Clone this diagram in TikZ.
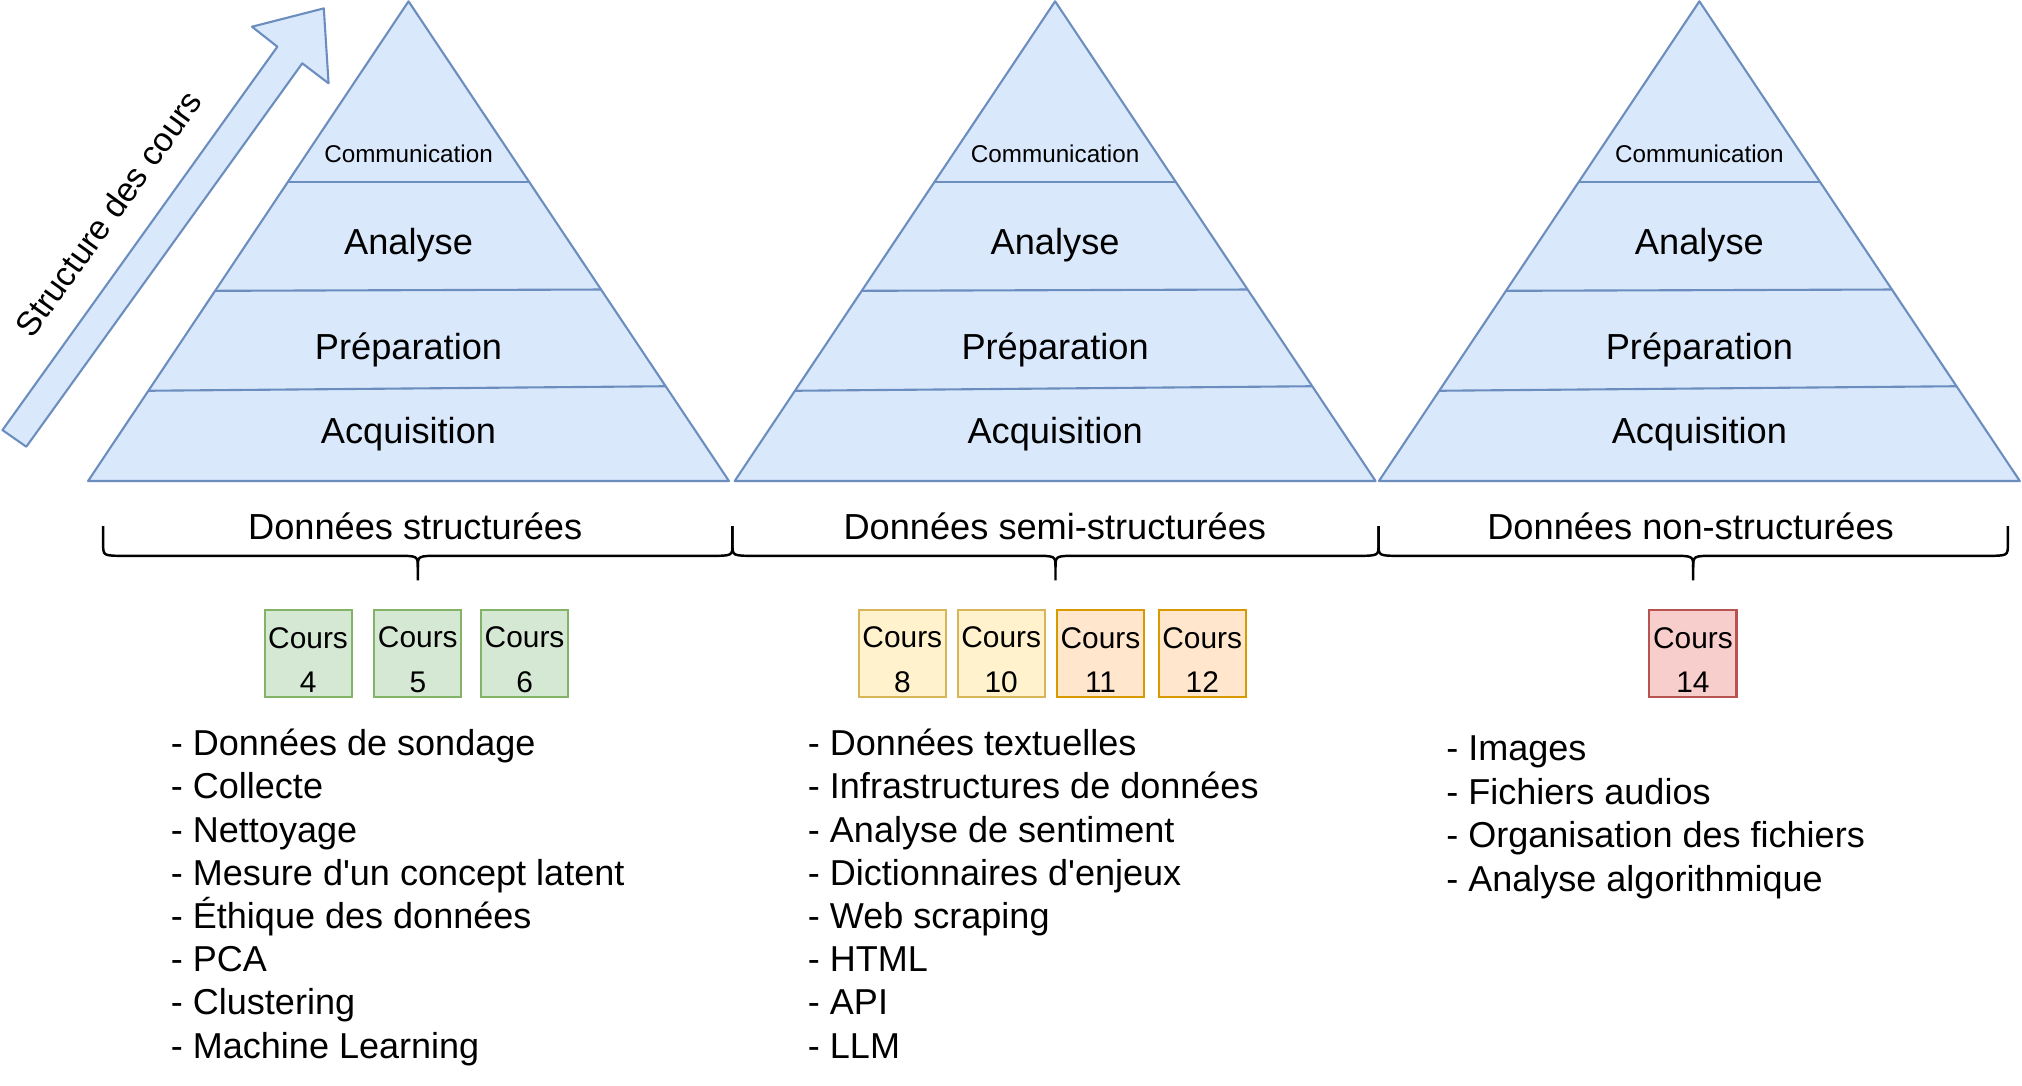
\documentclass[tikz,border=0pt]{standalone}
\usepackage{fontspec}
\setmainfont{Liberation Sans}
\definecolor{bluefill}{HTML}{DAE8FC}
\definecolor{bluedraw}{HTML}{6C8EBF}
\definecolor{greenfill}{HTML}{D5E8D4}
\definecolor{greendraw}{HTML}{82B366}
\definecolor{yellowfill}{HTML}{FFF2CC}
\definecolor{yellowdraw}{HTML}{D6B656}
\definecolor{orangefill}{HTML}{FFE6CC}
\definecolor{orangedraw}{HTML}{D79B00}
\definecolor{redfill}{HTML}{F8CECC}
\definecolor{reddraw}{HTML}{B85450}
\tikzset{
  pyr/.style={draw=bluedraw, line width=0.6pt, line join=round},
  layer/.style={anchor=base, inner sep=0pt, font=\fontsize{10.3}{12}\selectfont},
  cours/.style={draw=#1draw, fill=#1fill, line width=0.6pt, minimum width=0.87cm,
    minimum height=0.87cm, inner sep=0pt, align=center, font=\fontsize{8.5}{12.6}\selectfont},
  brace/.style={draw=black, line width=0.7pt},
  item/.style={anchor=base west, inner sep=0pt, font=\fontsize{10.25}{12.3}\selectfont}
}
\begin{document}
\begin{tikzpicture}[x=0.012895cm, y=-0.012895cm]
	\useasboundingbox (0,0) rectangle (1568,842);
	\draw[pyr, fill=bluefill] (1.9,333.5) -- (215.1,36.2) -- (195.4,20.7) -- (251.1,6.5) -- (254.8,64.6) -- (234.4,49.1) -- (20.4,346.4) -- cycle;
	\node[layer, anchor=center, rotate=54.3, font=\fontsize{9.6}{11}\selectfont] (struct) at (84,165.5) {Structure des cours};
	  \foreach \cx [count=\p] in {316.8,818.2,1317.8}{%
		\draw[pyr, fill=bluefill] (\cx,1) -- (\cx+248.5,373) -- (\cx-248.5,373) -- cycle;
		\draw[pyr] (\cx-93.5,141) -- (\cx+93.5,141);
		\draw[pyr] (\cx-149.6,225.5) -- (\cx+149.6,224.5);
		\draw[pyr] (\cx-201.7,303) -- (\cx+199.5,299.5);
		\node[layer, font=\fontsize{6.9}{8}\selectfont] (com-\p) at (\cx,126) {Communication};
		\node[layer] (ana-\p) at (\cx,197.5) {Analyse};
		\node[layer] (pre-\p) at (\cx,278.5) {Préparation};
		\node[layer] (acq-\p) at (\cx,344) {Acquisition};
	  }
	  \foreach \a/\m/\b in {80/324/568, 568/818.5/1069, 1069/1313/1557}{%
		\draw[brace] (\a,408) -- (\a,422) .. controls (\a,431) .. (\a+17,431) -- (\m-17,431) .. controls (\m,431) .. (\m,440) -- (\m,450);
		\draw[brace] (\m,440) .. controls (\m,431) .. (\m+17,431) -- (\b-17,431) .. controls (\b,431) .. (\b,422) -- (\b,408);
	  }
	\node[layer] (d-struct) at (322,418.5) {Données structurées};
	\node[layer] (d-semi) at (818,418.5) {Données semi-structurées};
	\node[layer] (d-non) at (1311,418.5) {Données non-structurées};
	  \foreach \x/\k/\col in {238.9/4/green, 324/5/green, 406.8/6/green, 699.7/8/yellow, 776.4/10/yellow, 853.4/11/orange, 932.3/12/orange, 1312.8/14/red}{%
		\node[cours=\col] (cours-\k) at (\x,507) {\rule{0pt}{9.3pt}Cours\\\k};
	  }
	  \foreach \t [count=\k from 0] in {Données de sondage, Collecte, Nettoyage, Mesure d\textquotesingle{}un concept latent, Éthique des données, PCA, Clustering, Machine Learning}{%
		\node[item] (s-\k) at (132,586+33.5*\k) {- \t};
	  }
	  \foreach \t [count=\k from 0] in {Données textuelles, Infrastructures de données, Analyse de sentiment, Dictionnaires d\textquotesingle{}enjeux, Web scraping, HTML, API, LLM}{%
		\node[item] (ss-\k) at (626,586+33.5*\k) {- \t};
	  }
	  \foreach \t [count=\k from 0] in {Images, Fichiers audios, Organisation des fichiers, Analyse algorithmique}{%
		\node[item] (ns-\k) at (1121,590+33.7*\k) {- \t};
	  }
\end{tikzpicture}
\end{document}
